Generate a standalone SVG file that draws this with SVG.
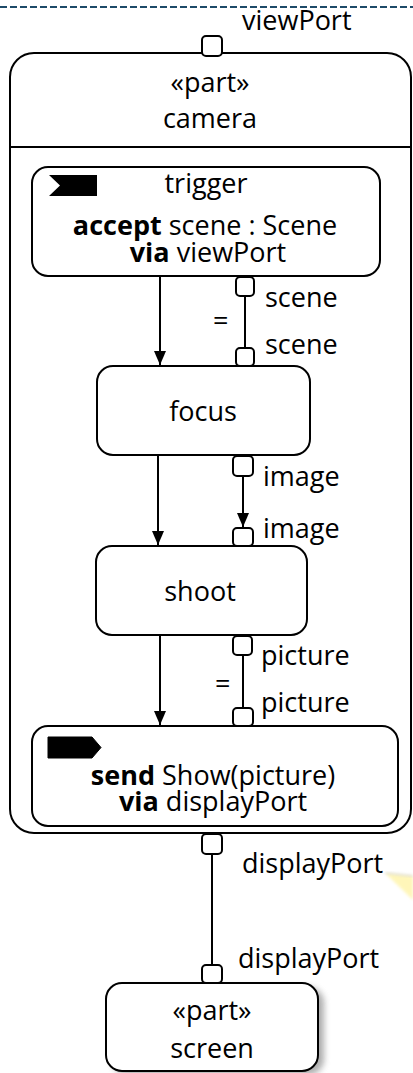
<svg xmlns="http://www.w3.org/2000/svg" width="413" height="1073" viewBox="0 0 413 1073">
  <defs>
    <style>
      .box { fill: #fff; stroke: #000; stroke-width: 2; }
      .port { fill: #fff; stroke: #000; stroke-width: 2; }
      .edge { fill: none; stroke: #000; stroke-width: 2; }
      text { font-family: "Open Sans", "Noto Sans", sans-serif; font-size: 27px; fill: #000; }
      .c { text-anchor: middle; }
      .b { font-weight: bold; }
    </style>
    <marker id="arrow" viewBox="0 0 14 12" refX="14" refY="6" markerWidth="14" markerHeight="12" markerUnits="userSpaceOnUse" orient="auto">
      <path d="M0,0 L14,6 L0,12 Z" fill="#000"/>
    </marker>
    <filter id="soft" x="-50%" y="-50%" width="200%" height="200%">
      <feGaussianBlur stdDeviation="3"/>
    </filter>
    <filter id="haze" x="-50%" y="-50%" width="200%" height="200%">
      <feGaussianBlur stdDeviation="1.5"/>
    </filter>
  </defs>

  <!-- frame boundary -->
  <line x1="0" y1="7" x2="413" y2="7" stroke="#1d4a68" stroke-width="2" stroke-dasharray="7 3"/>

  <!-- note callout tip -->
  <polygon points="385,873 413,876 413,900" fill="#fff4a8" opacity="0.8" filter="url(#haze)"/>
  <line x1="385" y1="873" x2="413" y2="876" stroke="#c8c8c8" stroke-width="1" filter="url(#haze)"/>

  <g id="camera">
    <rect class="box" x="10" y="53" width="401" height="780" rx="24" ry="24"/>
    <line x1="10" y1="147" x2="411" y2="147" stroke="#000" stroke-width="2"/>
    <text class="c" x="210" y="92">«part»</text>
    <text class="c" x="210" y="128">camera</text>
  </g>

  <g id="port-viewPort">
    <rect class="port" x="202" y="36" width="20" height="20" rx="4"/>
    <text x="242" y="30">viewPort</text>
  </g>

  <g id="trigger">
    <rect class="box" x="32" y="167" width="348" height="109" rx="16"/>
    <polygon points="49,175 97,175 97,196 49,196 60,185.5" fill="#000"/>
    <text class="c" x="206" y="193">trigger</text>
    <text class="c" x="205" y="235"><tspan class="b">accept</tspan> scene : Scene</text>
    <text class="c" x="208" y="262"><tspan class="b">via</tspan> viewPort</text>
  </g>

  <g id="focus">
    <rect class="box" x="97" y="366" width="213" height="89" rx="16"/>
    <text class="c" x="203" y="421">focus</text>
  </g>

  <g id="shoot">
    <rect class="box" x="96" y="546" width="211" height="89" rx="16"/>
    <text class="c" x="200" y="601">shoot</text>
  </g>

  <g id="send">
    <rect class="box" x="32" y="726" width="366" height="100" rx="16"/>
    <polygon points="48,737 92,737 101,747.5 92,758 48,758" fill="#000" stroke="#000" stroke-width="1" stroke-linejoin="round"/>
    <text class="c" x="213" y="785"><tspan class="b">send</tspan> Show(picture)</text>
    <text class="c" x="213" y="811"><tspan class="b">via</tspan> displayPort</text>
  </g>

  <g id="screen">
    <rect x="112" y="987" width="212" height="88" rx="16" fill="#777" opacity="0.6" filter="url(#soft)"/>
    <rect class="box" x="106" y="983" width="212" height="88" rx="16"/>
    <text class="c" x="212" y="1020">«part»</text>
    <text class="c" x="212" y="1058">screen</text>
  </g>

  <g id="connectors">
    <!-- control flows -->
    <line class="edge" x1="160" y1="276" x2="160" y2="365" marker-end="url(#arrow)"/>
    <line class="edge" x1="158" y1="455" x2="158" y2="545" marker-end="url(#arrow)"/>
    <line class="edge" x1="160" y1="635" x2="160" y2="725" marker-end="url(#arrow)"/>

    <!-- scene binding -->
    <line class="edge" x1="245" y1="296" x2="245" y2="348"/>
    <rect class="port" x="236" y="277" width="18" height="19" rx="4"/>
    <rect class="port" x="236" y="348" width="18" height="18" rx="4"/>
    <text x="265" y="307">scene</text>
    <text x="265" y="354">scene</text>
    <text x="213" y="330">=</text>

    <!-- image flow -->
    <line class="edge" x1="243" y1="476" x2="243" y2="527" marker-end="url(#arrow)"/>
    <rect class="port" x="233" y="456" width="20" height="20" rx="4"/>
    <rect class="port" x="233" y="528" width="20" height="18" rx="4"/>
    <text x="263" y="486">image</text>
    <text x="263" y="538">image</text>

    <!-- picture binding -->
    <line class="edge" x1="243" y1="655" x2="243" y2="708"/>
    <rect class="port" x="233" y="636" width="19" height="19" rx="4"/>
    <rect class="port" x="233" y="708" width="20" height="18" rx="4"/>
    <text x="261" y="665">picture</text>
    <text x="261" y="712">picture</text>
    <text x="215" y="693">=</text>

    <!-- displayPort connection -->
    <line class="edge" x1="212" y1="854" x2="212" y2="965"/>
    <rect class="port" x="202" y="834" width="20" height="20" rx="4"/>
    <rect class="port" x="202" y="965" width="20" height="18" rx="4"/>
    <text x="242" y="873">displayPort</text>
    <text x="238" y="968">displayPort</text>
  </g>
</svg>
